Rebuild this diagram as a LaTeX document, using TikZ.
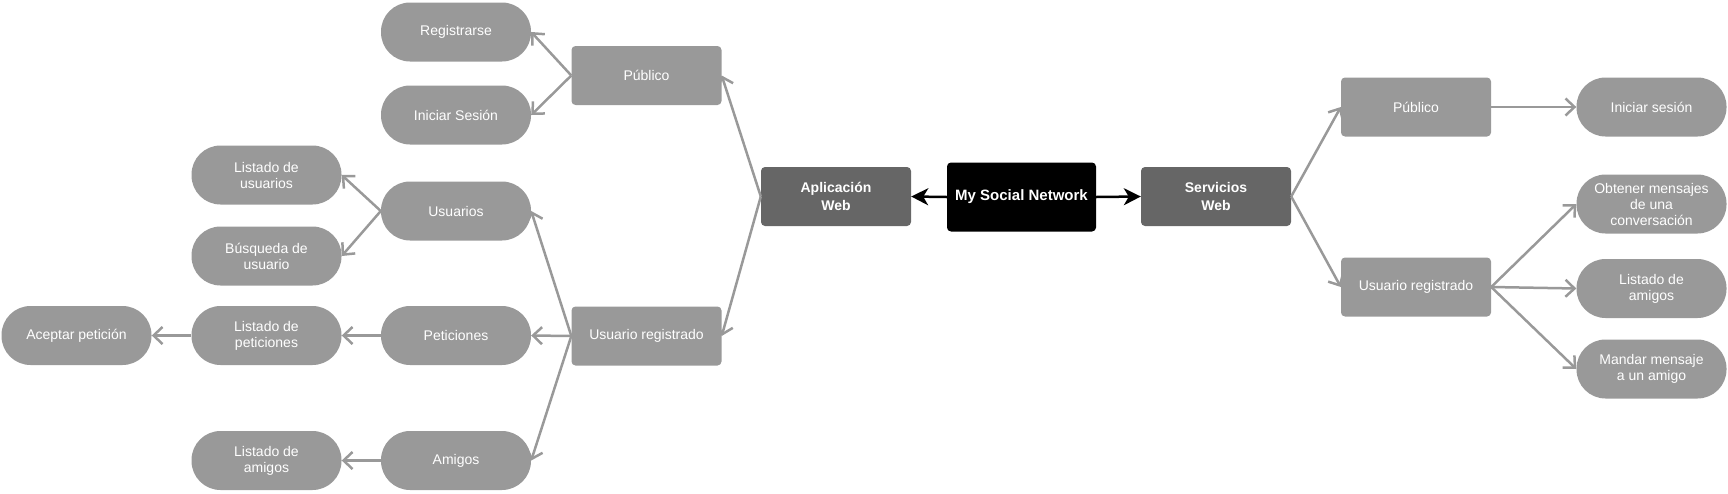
\documentclass[tikz,border=0pt]{standalone}
\usepackage{fontspec}
\setmainfont{Liberation Sans}
\usetikzlibrary{arrows.meta}
\definecolor{nodegray}{HTML}{999999}
\definecolor{darkgray}{HTML}{666666}
\definecolor{linegray}{HTML}{999999}
\tikzset{
  base/.style={inner sep=0pt, text=white, align=center, font=\fontsize{14}{16}\selectfont},
  pill/.style={base, fill=nodegray, minimum width=150pt, minimum height=59pt, rounded corners=29pt},
  box/.style={base, fill=nodegray, minimum width=150pt, minimum height=59pt, rounded corners=4pt},
  darkbox/.style={base, fill=darkgray, minimum width=150pt, minimum height=59pt, rounded corners=4pt, font=\fontsize{14}{18}\selectfont\bfseries},
  mainbox/.style={base, fill=black, minimum width=149pt, minimum height=69pt, rounded corners=4pt, font=\fontsize{15}{18}\selectfont\bfseries},
  garrow/.style={draw=linegray, line width=2.5pt, -{Straight Barb[length=9pt,width=17pt]}},
  barrow/.style={draw=black, line width=2.5pt, -{Stealth[length=17pt,width=17pt,inset=5pt]}}
}
\begin{document}
\begin{tikzpicture}[x=1pt,y=-1pt]
\useasboundingbox (0,0) rectangle (1728,493);
% left branch
\node[pill] (reg) at (456,32) {Registrarse};
\node[pill] (ini) at (456,115) {Iniciar Sesión};
\node[box] (pubL) at (646.5,75.5) {Público};
\node[pill] (lu) at (266.5,175) {Listado de\\usuarios};
\node[pill] (usu) at (456,211) {Usuarios};
\node[pill] (bus) at (266.5,256) {Búsqueda de\\usuario};
\node[pill] (ace) at (76.5,335.5) {Aceptar petición};
\node[pill] (lp) at (266.5,335.5) {Listado de\\peticiones};
\node[pill] (pet) at (456,335.5) {Peticiones};
\node[box] (urL) at (646.5,336) {Usuario registrado};
\node[pill] (la) at (266.5,460.5) {Listado de\\amigos};
\node[pill] (ami) at (456,460.5) {Amigos};
% centre
\node[darkbox] (app) at (836,196.5) {Aplicación\\Web};
\node[mainbox] (msn) at (1021.5,197) {My Social Network};
\node[darkbox] (srv) at (1216,196.5) {Servicios\\Web};
% right branch
\node[box] (pubR) at (1416,107) {Público};
\node[pill] (isR) at (1651.5,107) {Iniciar sesión};
\node[box] (urR) at (1416,287) {Usuario registrado};
\node[pill] (obt) at (1651.5,204) {Obtener mensajes\\de una\\conversación};
\node[pill] (laR) at (1651.5,288.5) {Listado de\\amigos};
\node[pill] (man) at (1651.5,369) {Mandar mensaje\\a un amigo};
% connectors
\draw[barrow] (msn.west) -- (app.east);
\draw[barrow] (msn.east) -- (srv.west);
\draw[garrow] (app.west) -- (pubL.east);
\draw[garrow] (app.west) -- (urL.east);
\draw[garrow] (pubL.west) -- (reg.east);
\draw[garrow] (pubL.west) -- (ini.east);
\draw[garrow] (urL.west) -- (usu.east);
\draw[garrow] (urL.west) -- (pet.east);
\draw[garrow] (urL.west) -- (ami.east);
\draw[garrow] (usu.west) -- (lu.east);
\draw[garrow] (usu.west) -- (bus.east);
\draw[garrow] (pet.west) -- (lp.east);
\draw[garrow] (lp.west) -- (ace.east);
\draw[garrow] (ami.west) -- (la.east);
\draw[garrow] (srv.east) -- (pubR.west);
\draw[garrow] (srv.east) -- (urR.west);
\draw[garrow] (pubR.east) -- (isR.west);
\draw[garrow] (urR.east) -- (obt.west);
\draw[garrow] (urR.east) -- (laR.west);
\draw[garrow] (urR.east) -- (man.west);
\end{tikzpicture}
\end{document}
